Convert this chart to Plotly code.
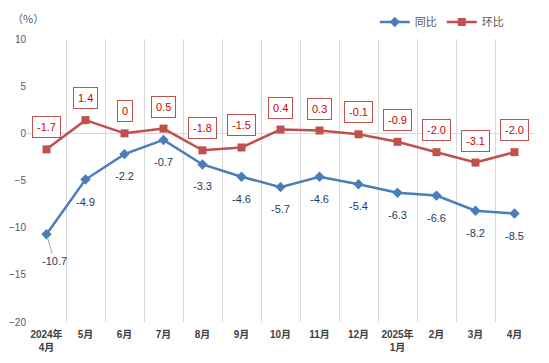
import plotly.graph_objects as go

categories = ["2024年<br>4月", "5月", "6月", "7月", "8月", "9月", "10月", "11月", "12月",
              "2025年<br>1月", "2月", "3月", "4月"]
yoy = [-10.7, -4.9, -2.2, -0.7, -3.3, -4.6, -5.7, -4.6, -5.4, -6.3, -6.6, -8.2, -8.5]
mom = [-1.7, 1.4, 0, 0.5, -1.8, -1.5, 0.4, 0.3, -0.1, -0.9, -2.0, -3.1, -2.0]
yoy_labels = ["-10.7", "-4.9", "-2.2", "-0.7", "-3.3", "-4.6", "-5.7", "-4.6", "-5.4", "-6.3", "-6.6", "-8.2", "-8.5"]
mom_labels = ["-1.7", "1.4", "0", "0.5", "-1.8", "-1.5", "0.4", "0.3", "-0.1", "-0.9", "-2.0", "-3.1", "-2.0"]

BLUE = "#4A7EBB"
RED = "#C0504D"
FONT = "Liberation Sans, Arial, sans-serif"

fig = go.Figure()
fig.add_trace(go.Scatter(x=categories, y=yoy, name="同比", mode="lines+markers",
                         line=dict(color=BLUE, width=2.5),
                         marker=dict(symbol="diamond", size=8, color=BLUE)))
fig.add_trace(go.Scatter(x=categories, y=mom, name="环比", mode="lines+markers",
                         line=dict(color=RED, width=2.5),
                         marker=dict(symbol="square", size=8, color=RED)))

annotations = []
for i, (c, v, t) in enumerate(zip(categories, yoy, yoy_labels)):
    if i == 0:
        annotations.append(dict(x=c, y=v, xref="x", yref="y", text=t, showarrow=True,
                                arrowhead=0, arrowcolor="#A6A6A6", arrowwidth=1,
                                ax=8, ay=27, standoff=3,
                                font=dict(family=FONT, size=11, color="#1F3864")))
    else:
        annotations.append(dict(x=c, y=v, xref="x", yref="y", text=t, showarrow=False,
                                yshift=-22, font=dict(family=FONT, size=11, color="#1F3864")))
for c, v, t in zip(categories, mom, mom_labels):
    annotations.append(dict(x=c, y=v, xref="x", yref="y", text=t, showarrow=False,
                            yshift=22, bgcolor="white", bordercolor=RED, borderwidth=1,
                            borderpad=4, font=dict(family=FONT, size=11, color="#D00000")))
annotations.append(dict(xref="paper", yref="paper", x=-0.033, y=1.075, xanchor="left", yanchor="middle",
                        text="（%）", showarrow=False,
                        font=dict(family="Noto Sans CJK SC", size=11, color="#595959")))

fig.update_layout(
    width=549, height=363,
    margin=dict(l=19, r=23, t=31, b=49, autoexpand=False),
    plot_bgcolor="white", paper_bgcolor="white",
    showlegend=True,
    legend=dict(orientation="h", x=0.686, y=1.06, xanchor="left", yanchor="middle",
                font=dict(family="Noto Sans CJK SC", size=11, color="#595959"),
                itemwidth=30, bgcolor="rgba(0,0,0,0)"),
    annotations=annotations,
    xaxis=dict(type="category", tickson="boundaries", showgrid=True, gridcolor="#D9D9D9",
               gridwidth=1, ticks="", showline=False, range=[-0.5, 12.5], tickangle=0,
               automargin=False, ticklabelstandoff=5,
               tickfont=dict(family="Liberation Sans, Noto Sans CJK SC", size=10, color="#404040",
                             weight="bold")),
    yaxis=dict(range=[-20, 10], dtick=5, showgrid=False, zeroline=True, zerolinecolor="#D9D9D9",
               zerolinewidth=1, showline=False, ticks="", automargin=False,
               tickfont=dict(family=FONT, size=10, color="#595959")),
)

fig.write_html("out.html")
